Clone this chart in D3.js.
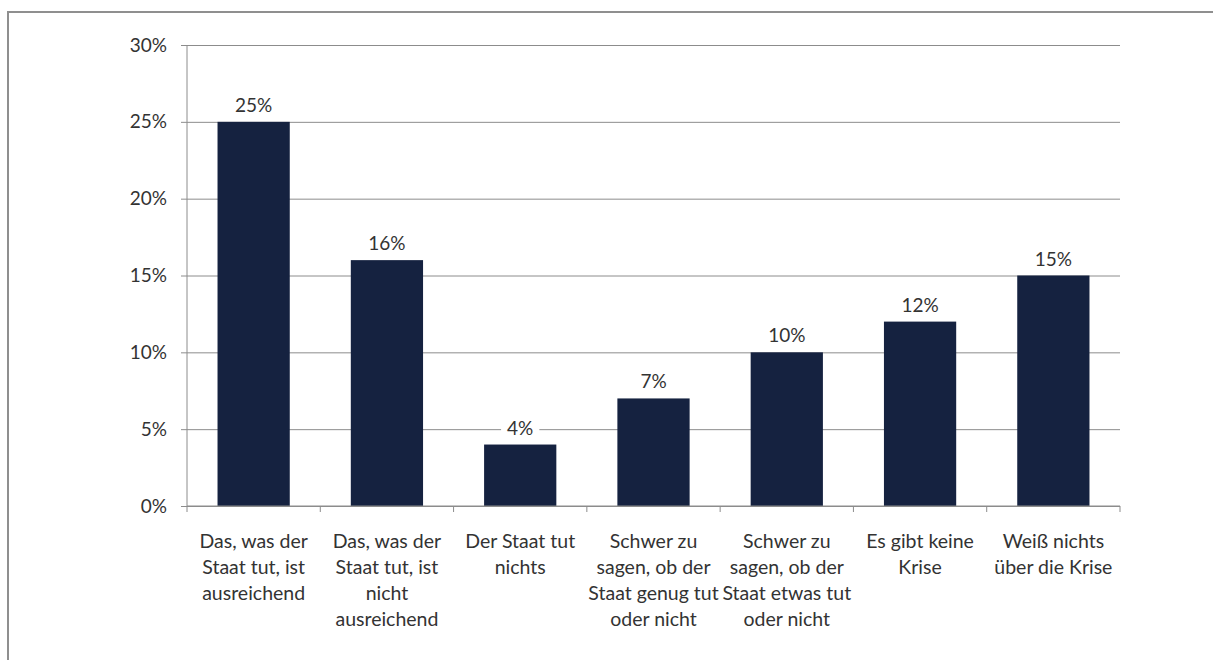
<!DOCTYPE html>
<html>
<head>
<meta charset="utf-8">
<script src="https://cdn.jsdelivr.net/npm/d3@7"></script>
<style>
  html, body { margin: 0; padding: 0; background: #fff; }
  svg { display: block; }
  text { font-family: Lato, "Noto Sans", sans-serif; fill: #333; }
</style>
</head>
<body>
<svg id="chart" width="1213" height="660"></svg>
<script>
// Answer categories (line breaks as shown under each bar)
const categories = [
  "Das, was der\nStaat tut, ist\nausreichend",
  "Das, was der\nStaat tut, ist\nnicht\nausreichend",
  "Der Staat tut\nnichts",
  "Schwer zu\nsagen, ob der\nStaat genug tut\noder nicht",
  "Schwer zu\nsagen, ob der\nStaat etwas tut\noder nicht",
  "Es gibt keine\nKrise",
  "Weiß nichts\nüber die Krise"
];
// Share of respondents, percent
const values = [25, 16, 4, 7, 10, 12, 15];
// Value axis ticks, percent
const yTicks = [0, 5, 10, 15, 20, 25, 30];

const svg = d3.select("#chart");
const margin = { left: 187, right: 93, top: 45, bottom: 154 };
const W = 1213, H = 660;
const innerW = W - margin.left - margin.right;
const innerH = H - margin.top - margin.bottom;

// Outer frame
svg.append("rect")
  .attr("x", 8).attr("y", 12)
  .attr("width", W + 10).attr("height", H + 10)
  .attr("fill", "none").attr("stroke", "#8f8f8f").attr("stroke-width", 2);

const g = svg.append("g").attr("transform", `translate(${margin.left},${margin.top})`);

const x = d3.scaleBand().domain(d3.range(categories.length)).range([0, innerW])
  .paddingInner(0.458).paddingOuter(0.229);
const xOuter = d3.scaleBand().domain(d3.range(categories.length)).range([0, innerW]);
const y = d3.scaleLinear().domain([0, 30]).range([innerH, 0]);

// Horizontal gridlines with left tick stubs
const yAxis = d3.axisLeft(y).tickValues(yTicks).tickSize(-innerW - 6)
  .tickFormat(d => d + "%");
const ya = g.append("g").attr("transform", "translate(-6,0)").call(yAxis);
ya.select(".domain").remove();
ya.selectAll(".tick line").attr("stroke", "#8c8c8c").attr("stroke-width", 1)
  .attr("x1", 0).attr("x2", innerW + 6);
ya.selectAll(".tick text").attr("font-size", 19).attr("fill", "#333")
  .attr("font-family", "Lato, 'Noto Sans', sans-serif").attr("x", -14);

// Vertical value axis line
g.append("line").attr("x1", 0).attr("x2", 0).attr("y1", 0).attr("y2", innerH)
  .attr("stroke", "#8c8c8c");

// Bars
g.selectAll("rect.bar").data(values).join("rect")
  .attr("class", "bar")
  .attr("x", (d, i) => x(i))
  .attr("y", d => y(d))
  .attr("width", x.bandwidth())
  .attr("height", d => innerH - y(d))
  .attr("fill", "#152240");

// Category axis with ticks at band boundaries
const xa = g.append("g").attr("transform", `translate(0,${innerH})`);
xa.append("line").attr("x1", 0).attr("x2", innerW).attr("stroke", "#8c8c8c");
xa.selectAll("line.tk").data(d3.range(categories.length + 1)).join("line")
  .attr("class", "tk")
  .attr("x1", i => i * xOuter.step()).attr("x2", i => i * xOuter.step())
  .attr("y1", 0).attr("y2", 6).attr("stroke", "#8c8c8c");

// Category labels
const lbl = xa.selectAll("text.cat").data(categories).join("text")
  .attr("class", "cat")
  .attr("text-anchor", "middle")
  .attr("font-size", 19.5)
  .attr("transform", (d, i) => `translate(${xOuter(i) + xOuter.bandwidth() / 2},42)`);
lbl.each(function (d) {
  const t = d3.select(this);
  d.split("\n").forEach((line, k) => {
    t.append("tspan").attr("x", 0).attr("y", k * 26).text(line);
  });
});

// Value labels with white backing so gridlines break around them
const vl = g.selectAll("g.val").data(values).join("g")
  .attr("class", "val")
  .attr("transform", (d, i) => `translate(${x(i) + x.bandwidth() / 2},${y(d) - 10})`);
vl.append("text").attr("text-anchor", "middle").attr("font-size", 19)
  .text(d => d + "%");
vl.each(function () {
  const grp = d3.select(this);
  const bb = grp.select("text").node().getBBox();
  grp.insert("rect", "text")
    .attr("x", bb.x - 6).attr("y", bb.y + 2)
    .attr("width", bb.width + 12).attr("height", bb.height - 4)
    .attr("fill", "#fff");
});
</script>
</body>
</html>
